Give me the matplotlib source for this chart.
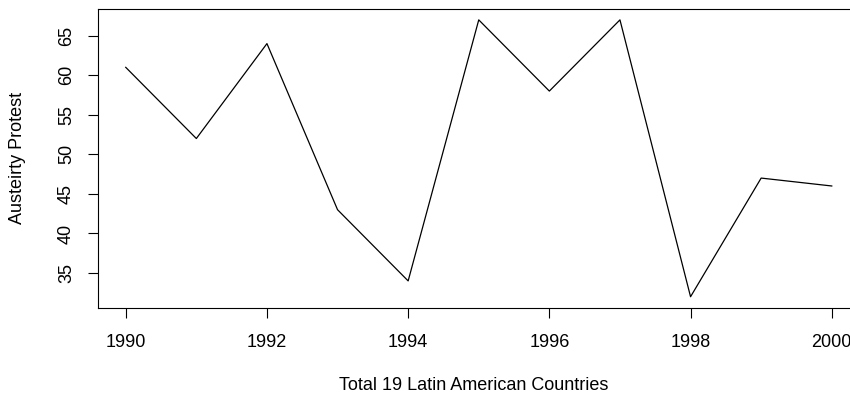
import matplotlib
matplotlib.use("Agg")
import matplotlib.pyplot as plt

years = [1990, 1991, 1992, 1993, 1994, 1995, 1996, 1997, 1998, 1999, 2000]
protests = [61, 52, 64, 43, 34, 67, 58, 67, 32, 47, 46]

x_ticks = [1990, 1992, 1994, 1996, 1998, 2000]
y_ticks = [35, 40, 45, 50, 55, 60, 65]

plt.rcParams['font.family'] = ['Liberation Sans', 'DejaVu Sans']

fig = plt.figure(figsize=(8.5, 4.0), dpi=100)
# R-style plot region; the right edge runs past the figure like in the original
ax = fig.add_axes([97.5 / 850, (400 - 307.8) / 400, (860 - 97.5) / 850, (307.8 - 8.8) / 400])

ax.plot(years, protests, color='black', linewidth=0.9)

# R default 4% padding
xr = max(years) - min(years)
yr = max(protests) - min(protests)
ax.set_xlim(min(years) - 0.04 * xr, max(years) + 0.04 * xr)
ax.set_ylim(min(protests) - 0.04 * yr, max(protests) + 0.04 * yr)

ax.set_xticks(x_ticks)
ax.set_xticklabels([str(t) for t in x_ticks], fontsize=13)
ax.set_yticks(y_ticks)
ax.set_yticklabels([str(t) for t in y_ticks], fontsize=13, rotation=90, va='center')
ax.tick_params(axis='both', length=7.2, width=0.8, color='black')
ax.tick_params(axis='x', pad=12)
ax.tick_params(axis='y', pad=9)

for s in ax.spines.values():
    s.set_linewidth(0.8)
ax.spines['right'].set_visible(False)

fig.text(474 / 850, 1 - 385 / 400, 'Total 19 Latin American Countries', fontsize=13,
         ha='center', va='center')
fig.text(18 / 850, 1 - 158 / 400, 'Austeirty Protest', fontsize=13,
         ha='center', va='center', rotation=90)

fig.savefig('out.png', dpi=100)
